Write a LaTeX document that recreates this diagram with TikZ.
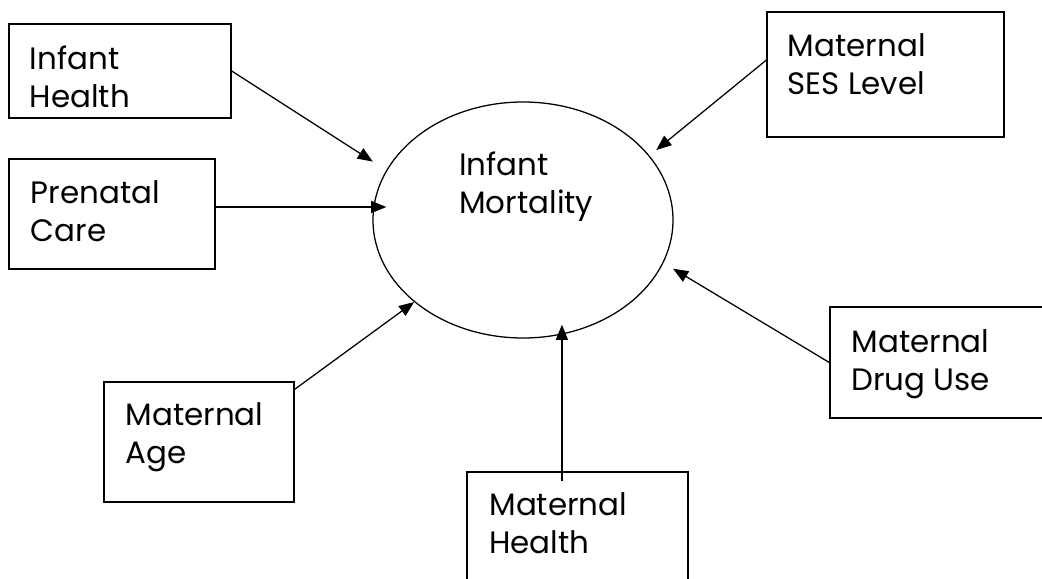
\documentclass[tikz,border=0pt]{standalone}
\usepackage{fontspec}
\setmainfont{Poppins}
\usepackage{tikz}
\usetikzlibrary{arrows.meta,positioning,shapes.geometric}

\begin{document}
\begin{tikzpicture}[
    factor/.style={draw,line width=1pt,inner sep=0pt,minimum width=#1},
    outcome/.style={draw,ellipse,line width=0.9pt,inner sep=0pt,minimum width=7.5cm,minimum height=5.9cm},
    txt/.style={inner sep=0pt,align=left,anchor=north west,font=\fontsize{22pt}{27pt}\selectfont},
    flow/.style={-{Triangle[length=0.38cm,width=0.3cm]},line width=0.9pt}
]
\useasboundingbox (0,0) rectangle (26.05,14.45);
\clip (0,0) rectangle (26.05,14.45);

% outcome
\node[outcome] (mort) at (13.075,8.95) {};
\node[txt] (mortlbl) at ([xshift=-1.6cm,yshift=1.7cm]mort.center) {Infant\\Mortality};

% factors
\node[factor=5.55cm,minimum height=2.35cm] (ih) at (3.0,12.675) {};
\node[factor=5.15cm,minimum height=2.75cm] (pc) at (2.8,9.1) {};
\node[factor=5.925cm,minimum height=3.125cm] (ses) at (22.1375,12.5875) {};
\node[factor=5.75cm,minimum height=2.775cm] (du) at (23.625,5.3875) {};
\node[factor=4.75cm,minimum height=3.0cm] (ma) at (4.975,3.4) {};
\node[factor=5.525cm,minimum height=3.0cm] (mh) at (14.4375,1.15) {};

\node[txt] (ihtxt) at ([xshift=5.3mm,yshift=-5.5mm]ih.north west) {Infant\\Health};
\node[txt] (pctxt) at ([xshift=5.6mm,yshift=-5.5mm]pc.north west) {Prenatal\\Care};
\node[txt] (sestxt) at ([xshift=5.3mm,yshift=-5.5mm]ses.north west) {Maternal\\SES Level};
\node[txt] (dutxt) at ([xshift=5.5mm,yshift=-5.8mm]du.north west) {Maternal\\Drug Use};
\node[txt] (matxt) at ([xshift=5.5mm,yshift=-5.3mm]ma.north west) {Maternal\\Age};
\node[txt] (mhtxt) at ([xshift=5.7mm,yshift=-5.3mm]mh.north west) {Maternal\\Health};

% arrows
\draw[flow,shorten >=0.4cm] (ih.east) -- (mort.160);
\draw[flow] ([yshift=1.75mm]pc.east) -- ([xshift=3.5mm,yshift=1.75mm]pc.east -| mort.west);
\draw[flow,shorten >=0.22cm] ([yshift=3.6mm]ses.west) -- (mort.27);
\draw[flow,shorten >=0.28cm] (du.west) -- (mort.-17);
\draw[flow] ([yshift=-2mm]ma.north east) -- (mort.217);
\draw[flow] ([xshift=-3.9mm,yshift=-2.5mm]mh.north) -- ([xshift=-3.9mm,yshift=3.5mm]mh.north |- mort.south);
\end{tikzpicture}
\end{document}
